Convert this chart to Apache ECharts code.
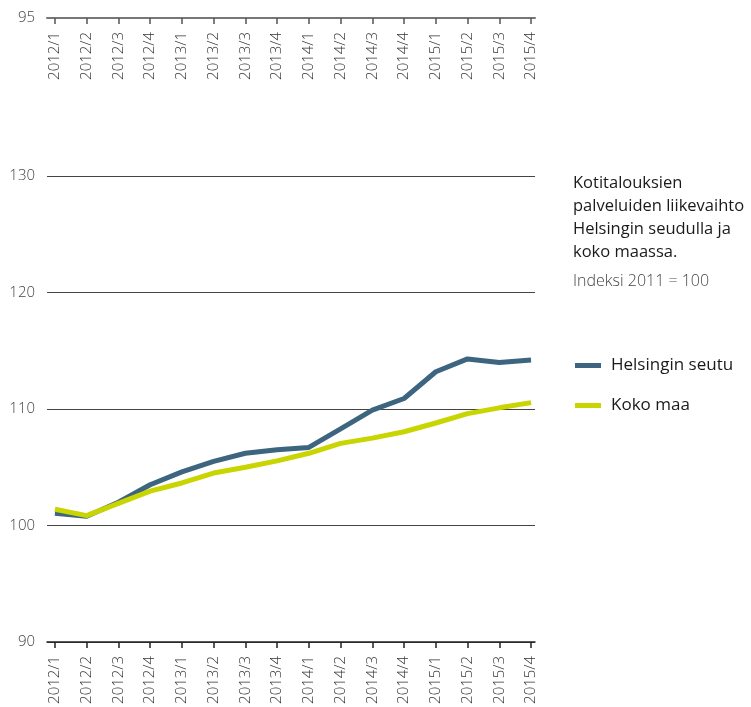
<!DOCTYPE html>
<html>
<head>
<meta charset="utf-8">
<script src="https://cdn.jsdelivr.net/npm/echarts@6/dist/echarts.min.js"></script>
<style>
  html, body { margin: 0; padding: 0; background: #fff; }
  #chart { width: 751px; height: 707px; }
</style>
</head>
<body>
<div id="chart"></div>
<script>
// Quarterly categories
const quarters = ['2012/1','2012/2','2012/3','2012/4','2013/1','2013/2','2013/3','2013/4',
                  '2014/1','2014/2','2014/3','2014/4','2015/1','2015/2','2015/3','2015/4'];
// Index values (2011 = 100)
const helsinki = [101.05, 100.8, 102.0, 103.5, 104.6, 105.5, 106.2, 106.5,
                  106.7, 108.3, 109.9, 110.9, 113.2, 114.3, 114.0, 114.2];
const kokoMaa  = [101.4, 100.85, 101.9, 102.95, 103.65, 104.5, 105.0, 105.55,
                  106.2, 107.05, 107.5, 108.05, 108.8, 109.6, 110.1, 110.55];
const seriesNames = ['Helsingin seutu', 'Koko maa'];
const yTicks = [90, 100, 110, 120, 130];
const topTick = [95];

const titleLines = ['Kotitalouksien', 'palveluiden liikevaihto', 'Helsingin seudulla ja', 'koko maassa.'];
const subtitle = 'Indeksi 2011 = 100';

const FONT = '"Open Sans", "Noto Sans", sans-serif';
const idx = quarters.map((_, i) => i);
const toPairs = arr => arr.map((v, i) => [i, v]);

const xMin = -0.25, xMax = quarters.length - 1 + 0.125;

const catLabel = {
  customValues: idx,
  rotate: 90,
  fontFamily: FONT,
  fontSize: 15,
  fontWeight: 300,
  color: '#333',
  margin: 14,
  formatter: v => quarters[Math.round(v)]
};

const chart = echarts.init(document.getElementById('chart'), null, { renderer: 'canvas' });
chart.setOption({
  animation: false,
  backgroundColor: '#fff',
  title: [{
    text: titleLines.join('\n'),
    left: 573, top: 172, padding: 0,
    textStyle: { fontFamily: FONT, fontSize: 16.5, fontWeight: 500, color: '#1a1a1a', lineHeight: 23 }
  }, {
    text: subtitle,
    left: 573, top: 270, padding: 0,
    textStyle: { fontFamily: FONT, fontSize: 16, fontWeight: 300, color: '#444', lineHeight: 23 }
  }],
  legend: {
    orient: 'vertical',
    left: 570, top: 352,
    icon: 'rect',
    itemWidth: 26, itemHeight: 5,
    itemGap: 23,
    data: seriesNames,
    textStyle: { fontFamily: FONT, fontSize: 17, color: '#1a1a1a', padding: [0, 0, 0, 5] }
  },
  grid: [
    { left: 47, right: 216, top: 176, bottom: 65 },
    { left: 47, right: 216, top: 18, height: 1 }
  ],
  xAxis: [{
    type: 'value', gridIndex: 0, min: xMin, max: xMax,
    axisLine: { show: true, onZero: false, lineStyle: { color: '#222', width: 1.5 } },
    axisTick: { show: true, customValues: idx, length: 6, lineStyle: { color: '#222', width: 1.5 } },
    axisLabel: catLabel,
    splitLine: { show: false }
  }, {
    type: 'value', gridIndex: 1, min: xMin, max: xMax, position: 'top',
    axisLine: { show: true, onZero: false, lineStyle: { color: '#777', width: 2 } },
    axisTick: { show: true, inside: true, customValues: idx, length: 6, lineStyle: { color: '#555', width: 1.5 } },
    axisLabel: Object.assign({}, catLabel, { inside: true, rotate: -90 }),
    splitLine: { show: false }
  }],
  yAxis: [{
    type: 'value', gridIndex: 0, min: 90, max: 130, interval: 10,
    axisLine: { show: false }, axisTick: { show: false },
    axisLabel: { customValues: yTicks, fontFamily: FONT, fontSize: 15, fontWeight: 300, color: '#444', margin: 12 },
    splitLine: { show: true, lineStyle: { color: '#444', width: 1 } }
  }, {
    type: 'value', gridIndex: 1, min: 95, max: 100, inverse: true,
    axisLine: { show: false }, axisTick: { show: false },
    axisLabel: { customValues: topTick, fontFamily: FONT, fontSize: 15, fontWeight: 300, color: '#444', margin: 12 },
    splitLine: { show: false }
  }],
  series: [{
    name: seriesNames[0], type: 'line', xAxisIndex: 0, yAxisIndex: 0,
    data: toPairs(helsinki), showSymbol: false, symbol: 'none',
    color: '#3d6580',
    lineStyle: { width: 5, color: '#3d6580' }
  }, {
    name: seriesNames[1], type: 'line', xAxisIndex: 0, yAxisIndex: 0,
    data: toPairs(kokoMaa), showSymbol: false, symbol: 'none',
    color: '#c9d500',
    lineStyle: { width: 5, color: '#c9d500' }
  }]
});
</script>
</body>
</html>
